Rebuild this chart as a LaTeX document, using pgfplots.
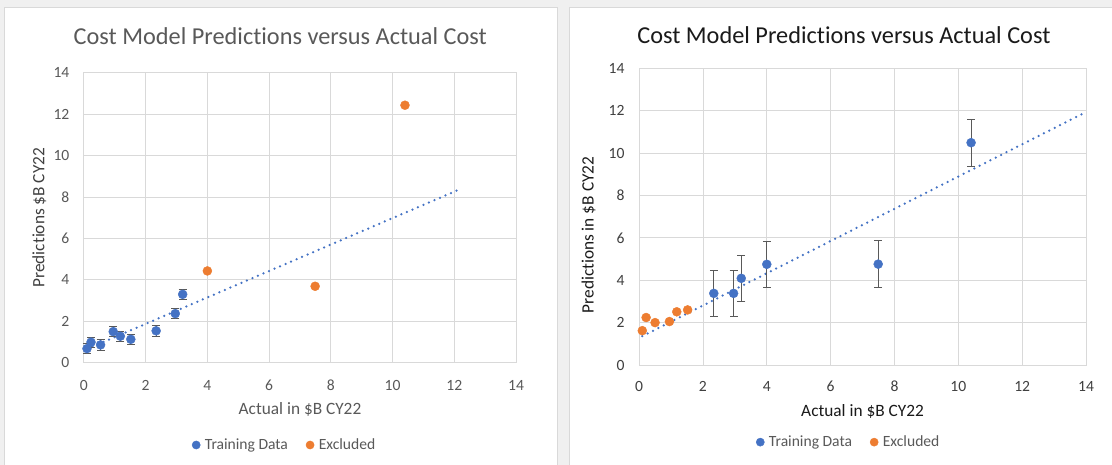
\documentclass[border=0pt]{standalone}
\usepackage{pgfplots}
\pgfplotsset{compat=1.18}
\usepackage{fontspec}
\setmainfont{Carlito}[Ligatures=NoCommon]
\definecolor{xlblue}{HTML}{4472C4}
\definecolor{xlorange}{HTML}{ED7D31}
\definecolor{gridgray}{HTML}{D9D9D9}
\definecolor{txtgray}{HTML}{595959}
\definecolor{errgray}{HTML}{595959}
\definecolor{bggray}{HTML}{F0F0F0}
\definecolor{darktxt}{HTML}{1A1A1A}
\definecolor{ticktxt}{HTML}{404040}
\pgfplotsset{
  xlstyle/.style={
    scale only axis, clip=false,
    xmin=0,xmax=14,ymin=0,ymax=14,
    xtick={0,2,...,14}, ytick={0,2,...,14},
    grid=major,
    major grid style={draw=gridgray,line width=0.9bp},
    axis line style={draw=gridgray,line width=0.9bp},
    major tick length=0pt,
    /pgf/number format/assume math mode=true,
    tick label style={font=\fontsize{15.6bp}{18bp}\selectfont},
    legend columns=2,
    legend cell align=left,
    legend style={draw=none,fill=none,inner sep=0pt,outer sep=0pt,
       font=\fontsize{15.6bp}{18bp}\selectfont, text=txtgray,
       /tikz/every even column/.append style={column sep=18bp},
       nodes={inner sep=0pt, outer sep=0pt}, anchor=center},
    legend image code/.code={\path[draw=none] (0bp,0bp) (12.8bp,0bp);\path[##1,draw=none,mark size=4.1bp] plot coordinates {(4.1bp,0bp)};},
  },
  trend/.style={xlblue,line width=2.5bp,line cap=round,dash pattern=on 0bp off 6bp, forget plot},
  train/.style={only marks, mark=*, mark size=4.5bp, color=xlblue, mark options={fill=xlblue,draw=xlblue},
    error bars/.cd, y dir=both, y explicit, error mark=-,
    error bar style={errgray,line width=0.9bp},
    error mark options={errgray, rotate=90, mark size=4bp, line width=0.9bp}},
  excl/.style={only marks, mark=*, mark size=4.5bp, color=xlorange, mark options={fill=xlorange,draw=xlorange}},
}
\begin{document}
\begin{tikzpicture}
\useasboundingbox (0bp,0bp) rectangle (1112bp,465bp);
\fill[bggray] (0bp,0bp) rectangle (1112bp,465bp);
\filldraw[fill=white,draw=gridgray,line width=0.75bp] (4bp,-2bp) rectangle (557bp,458bp);
\filldraw[fill=white,draw=gridgray,line width=0.75bp] (569bp,-2bp) rectangle (1114bp,458bp);

% ---------------- left chart ----------------
\begin{axis}[xlstyle, width=432.2bp, height=290bp, at={(83.9bp,102.3bp)}, anchor=south west,
  tick label style={text=txtgray},
  xticklabel style={anchor=north,inner sep=0pt,yshift=-17.3bp},
  yticklabel style={anchor=east,inner sep=0pt,xshift=-14.3bp},
  title={Cost Model Predictions versus Actual Cost},
  title style={at={(axis description cs:0.4544,1.0955)},anchor=base,inner sep=0pt,yshift=-6pt,
    font=\fontsize{24.3bp}{28bp}\selectfont, text=txtgray},
  xlabel={Actual in \$B CY22},
  xlabel style={at={(axis description cs:0.5,-0.180)},anchor=base,inner sep=0pt,
    font=\fontsize{17.3bp}{20bp}\selectfont, text=txtgray},
  ylabel={Predictions \$B CY22},
  ylabel style={at={(axis description cs:-0.0912,0.5)},anchor=base,inner sep=0pt,
    font=\fontsize{17.3bp}{20bp}\selectfont, text=ticktxt},
  legend style={at={(axis description cs:0.4623,-0.2838)}},
]
\addplot[trend] coordinates {(0.1,0.66) (12.16,8.36)};
\addplot[train] coordinates {
 (0.1,0.68) +- (0,0.25)
 (0.23,0.99) +- (0,0.25)
 (0.54,0.86) +- (0,0.25)
 (0.95,1.50) +- (0,0.25)
 (1.18,1.28) +- (0,0.25)
 (1.52,1.13) +- (0,0.25)
 (2.34,1.54) +- (0,0.25)
 (2.96,2.37) +- (0,0.25)
 (3.2,3.30) +- (0,0.25)
};
\addlegendentry{Training Data}
\addplot[excl] coordinates {(4.0,4.43) (7.49,3.69) (10.4,12.43)};
\addlegendentry{Excluded}
\end{axis}

% ---------------- right chart ----------------
\begin{axis}[xlstyle, width=446.9bp, height=296.7bp, at={(639.1bp,100bp)}, anchor=south west,
  tick label style={text=ticktxt},
  xticklabel style={anchor=north,inner sep=0pt,yshift=-16bp},
  yticklabel style={anchor=east,inner sep=0pt,xshift=-14.5bp},
  title={Cost Model Predictions versus Actual Cost},
  title style={at={(axis description cs:0.4583,1.0843)},anchor=base,inner sep=0pt,yshift=-6pt,
    font=\fontsize{24.3bp}{28bp}\selectfont, text=darktxt},
  xlabel={Actual in \$B CY22},
  xlabel style={at={(axis description cs:0.5,-0.172)},anchor=base,inner sep=0pt,
    font=\fontsize{17.3bp}{20bp}\selectfont, text=darktxt},
  ylabel={Predictions in \$B CY22},
  ylabel style={at={(axis description cs:-0.102,0.438)},anchor=base,inner sep=0pt,
    font=\fontsize{17.3bp}{20bp}\selectfont, text=darktxt},
  legend style={at={(axis description cs:0.467,-0.260)}},
]
\addplot[trend] coordinates {(0.1,1.36) (13.9,11.86)};
\addplot[train] coordinates {
 (2.34,3.38) +- (0,1.1)
 (2.96,3.38) +- (0,1.1)
 (3.2,4.09) +- (0,1.1)
 (4.0,4.75) +- (0,1.1)
 (7.49,4.76) +- (0,1.1)
 (10.4,10.49) +- (0,1.1)
};
\addlegendentry{Training Data}
\addplot[excl] coordinates {(0.1,1.62) (0.22,2.24) (0.5,2.0) (0.95,2.05) (1.18,2.51) (1.52,2.6)};
\addlegendentry{Excluded}
\end{axis}
\end{tikzpicture}
\end{document}
